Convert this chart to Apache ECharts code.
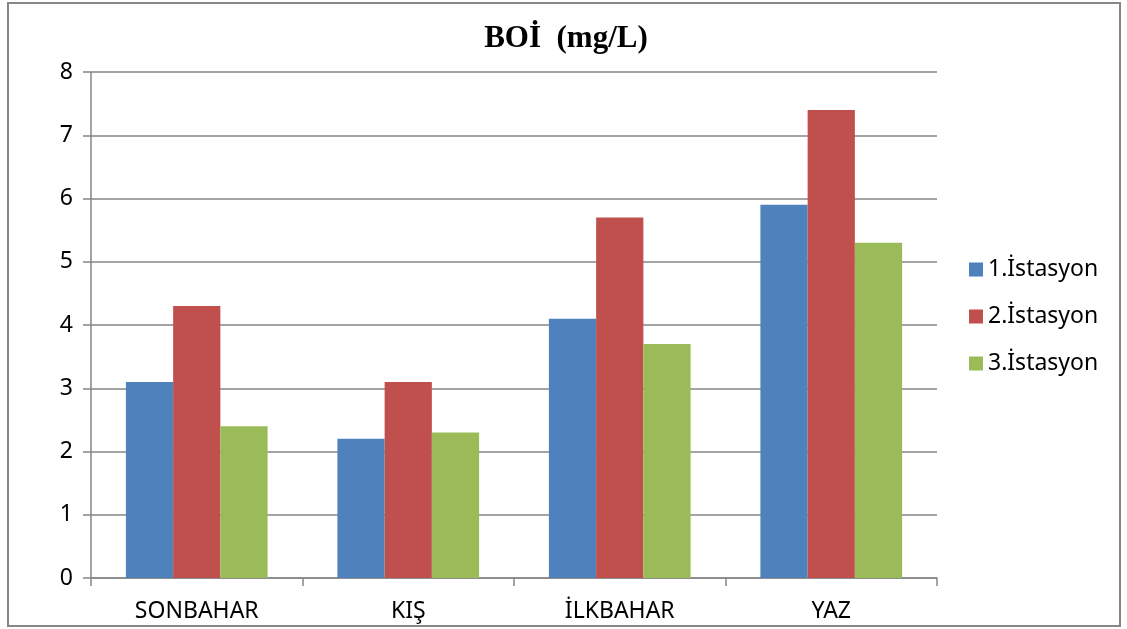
<!DOCTYPE html>
<html>
<head>
<meta charset="utf-8">
<script src="https://cdn.jsdelivr.net/npm/echarts@6/dist/echarts.min.js"></script>
<style>
  html, body { margin: 0; padding: 0; background: #fff; }
  #chart { width: 1127px; height: 629px; }
</style>
</head>
<body>
<div id="chart"></div>
<script>
// seasons on the x axis
const seasons = ['SONBAHAR', 'KIŞ', 'İLKBAHAR', 'YAZ'];
const stationNames = ['1.İstasyon', '2.İstasyon', '3.İstasyon'];

// BOİ values per station (mg/L)
const station1 = [3.1, 2.2, 4.1, 5.9];
const station2 = [4.3, 3.1, 5.7, 7.4];
const station3 = [2.4, 2.3, 3.7, 5.3];

const colors = ['#4F81BD', '#C0504D', '#9BBB59'];
const gray = '#868686';
const labelFont = 'Noto Sans';

const chart = echarts.init(document.getElementById('chart'));

const makeBar = (name, data, color) => ({
  name: name,
  type: 'bar',
  data: data,
  barGap: '0%',
  barCategoryGap: '33%',
  itemStyle: { color: color },
  emphasis: { disabled: true }
});

const option = {
  animation: false,
  color: colors,
  title: {
    text: 'BOİ  (mg/L)',
    left: 561,
    top: 18,
    textAlign: 'center',
    textStyle: {
      fontFamily: 'Liberation Serif',
      fontWeight: 'bold',
      fontSize: 31,
      color: '#000'
    }
  },
  legend: {
    orient: 'vertical',
    left: 964,
    top: 253,
    itemWidth: 14,
    itemHeight: 14,
    itemGap: 24,
    icon: 'rect',
    textStyle: { fontFamily: labelFont, fontSize: 23, color: '#000' },
    data: stationNames
  },
  grid: {
    left: 91,
    right: 190,
    top: 72,
    bottom: 51,
    containLabel: false
  },
  xAxis: {
    type: 'category',
    data: seasons,
    axisLine: { show: true, lineStyle: { color: gray, width: 1.5 } },
    axisTick: { show: true, length: 8, inside: false, lineStyle: { color: gray, width: 1.5 } },
    axisLabel: { fontFamily: labelFont, fontSize: 23, color: '#000', margin: 22 }
  },
  yAxis: {
    type: 'value',
    min: 0,
    max: 8,
    interval: 1,
    axisLine: { show: true, lineStyle: { color: gray, width: 1.5 } },
    axisTick: { show: true, length: 8, lineStyle: { color: gray, width: 1.5 } },
    axisLabel: { fontFamily: labelFont, fontSize: 23, color: '#000', margin: 18 },
    splitLine: { show: true, lineStyle: { color: gray, width: 1.5 } }
  },
  graphic: [{
    type: 'rect',
    shape: { x: 8, y: 3, width: 1112, height: 623 },
    style: { fill: 'none', stroke: gray, lineWidth: 2 },
    silent: true
  }],
  series: [
    makeBar(stationNames[0], station1, colors[0]),
    makeBar(stationNames[1], station2, colors[1]),
    makeBar(stationNames[2], station3, colors[2])
  ]
};

chart.setOption(option);
</script>
</body>
</html>
